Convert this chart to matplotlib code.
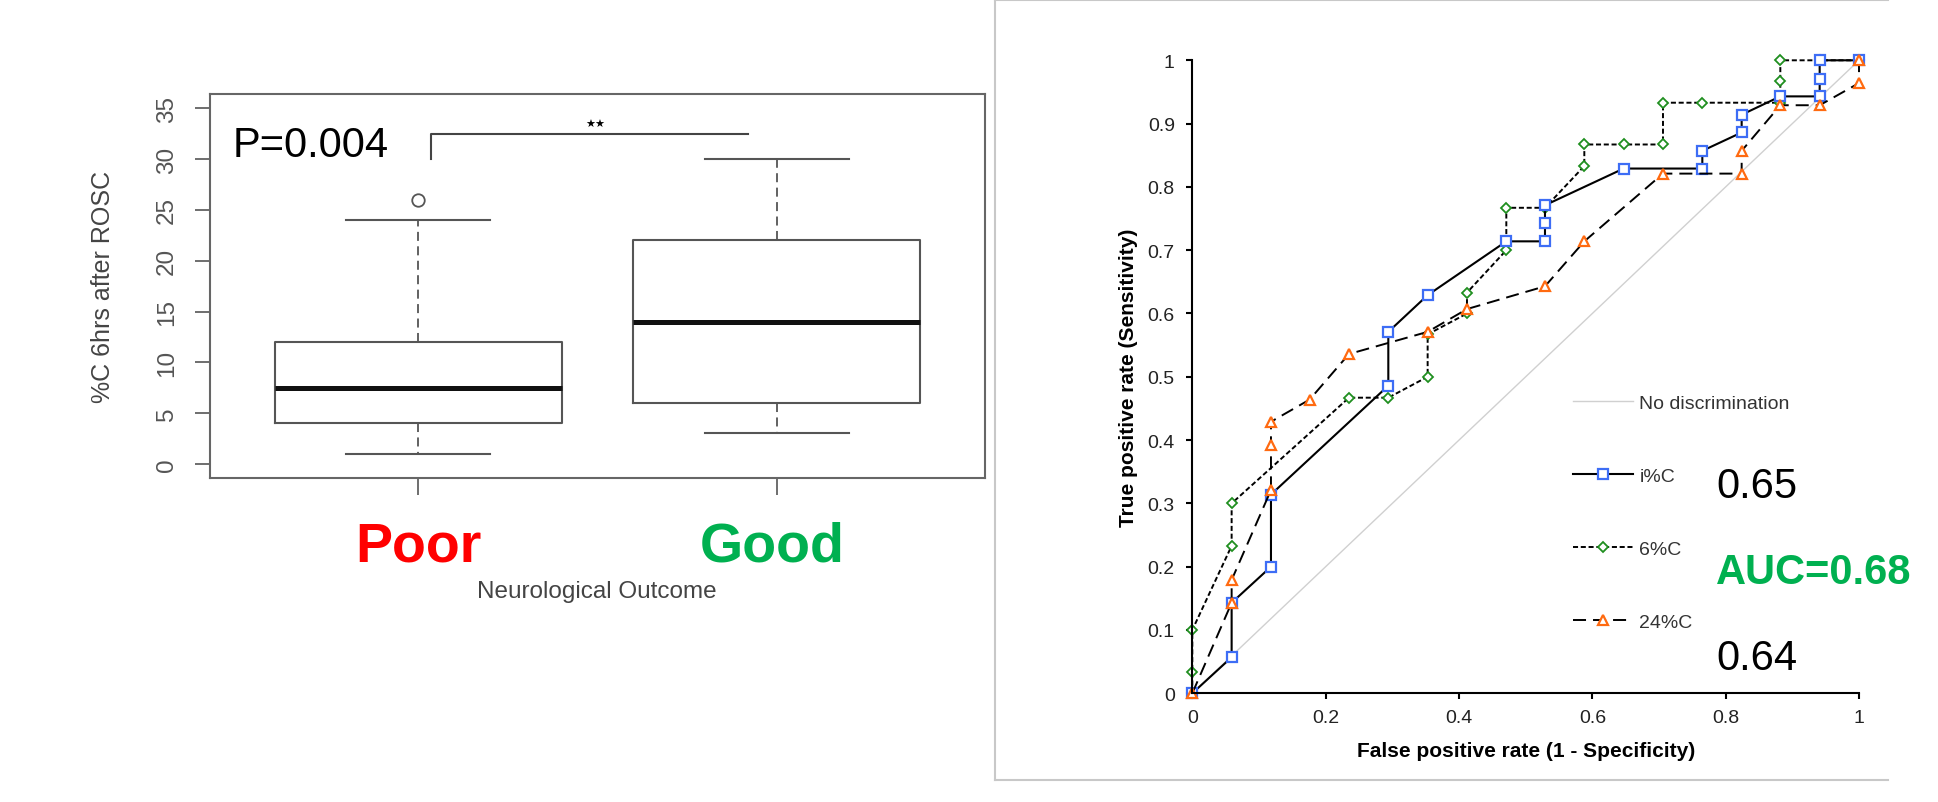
import matplotlib
matplotlib.use('Agg')
import matplotlib.pyplot as plt
from matplotlib.lines import Line2D
from matplotlib.ticker import FuncFormatter

plt.rcParams['font.family'] = ['Liberation Sans', 'DejaVu Sans']

# ---- left panel: %C 6 hrs after ROSC by neurological outcome ----
outcome = ['Poor', 'Good']
outcome_colors = ['#ff0000', '#00b050']
q1 = [4, 6]
median = [7.5, 14]
q3 = [12, 22]
whisker_low = [1, 3]
whisker_high = [24, 30]
outliers = [[26], []]
p_text = 'P=0.004'
bracket_x = [1.035, 1.92]
bracket_y = [30, 32.5]

# ---- right panel: ROC curves ----
fpr_i = [0, 0.059, 0.059, 0.118, 0.118, 0.294, 0.294, 0.353, 0.471, 0.529, 0.529,
         0.529, 0.647, 0.765, 0.765, 0.824, 0.824, 0.882, 0.941, 0.941, 0.941, 1.0]
tpr_i = [0, 0.057, 0.143, 0.200, 0.314, 0.486, 0.571, 0.629, 0.714, 0.714, 0.743,
         0.771, 0.829, 0.829, 0.857, 0.886, 0.914, 0.943, 0.943, 0.971, 1.0, 1.0]

fpr_6 = [0, 0, 0, 0.059, 0.059, 0.235, 0.294, 0.353, 0.353, 0.412, 0.412, 0.471, 0.471,
         0.529, 0.588, 0.588, 0.647, 0.706, 0.706, 0.765, 0.882, 0.882, 0.882, 0.941, 1.0]
tpr_6 = [0, 0.033, 0.100, 0.233, 0.300, 0.467, 0.467, 0.500, 0.567, 0.600, 0.633, 0.700, 0.767,
         0.767, 0.833, 0.867, 0.867, 0.867, 0.933, 0.933, 0.933, 0.967, 1.0, 1.0, 1.0]

fpr_24 = [0, 0.059, 0.059, 0.118, 0.118, 0.118, 0.176, 0.235, 0.353, 0.412, 0.529,
          0.588, 0.706, 0.824, 0.824, 0.882, 0.941, 1.0, 1.0]
tpr_24 = [0, 0.143, 0.179, 0.321, 0.393, 0.429, 0.464, 0.536, 0.571, 0.607, 0.643,
          0.714, 0.821, 0.821, 0.857, 0.929, 0.929, 0.964, 1.0]

auc_text = ['0.65', 'AUC=0.68', '0.64']

W, H = 1938, 803
fig = plt.figure(figsize=(W / 100, H / 100), dpi=100)

# boxplot panel
ax1 = fig.add_axes([210 / W, 1 - 479 / H, 775 / W, 384 / H])
stats = []
for i in range(len(outcome)):
    stats.append(dict(label=outcome[i], q1=q1[i], med=median[i], q3=q3[i],
                      whislo=whisker_low[i], whishi=whisker_high[i], fliers=outliers[i]))
ax1.bxp(stats, positions=[1, 2], widths=0.8, capwidths=0.4, showfliers=True,
        boxprops=dict(color='#555555', lw=1.5),
        medianprops=dict(color='#111111', lw=3.6, solid_capstyle='butt'),
        whiskerprops=dict(color='#555555', lw=1.3, ls=(0, (5, 3))),
        capprops=dict(color='#555555', lw=1.5),
        flierprops=dict(marker='o', mfc='none', mec='#555555', ms=9, mew=1.3))
ax1.set_xlim(0.42, 2.58)
ax1.set_ylim(-1.38, 36.4)
ax1.set_yticks(range(0, 36, 5))
ax1.tick_params(axis='y', length=11, width=1.2, color='#555555', labelcolor='#555555',
                labelsize=17.5, labelrotation=90, pad=12)
for lab in ax1.get_yticklabels():
    lab.set_va('center')
ax1.set_xticks([1, 2])
ax1.set_xticklabels([])
ax1.tick_params(axis='x', length=12, width=1.2, color='#555555')
for s in ax1.spines.values():
    s.set_color('#666666')
    s.set_linewidth(1.5)

ax1.plot([bracket_x[0], bracket_x[0], bracket_x[1]], [bracket_y[0], bracket_y[1], bracket_y[1]],
         color='#444444', lw=1.5)
ax1.text(1.494, 33.46, '★★', fontsize=8, ha='center', va='center', family=['DejaVu Sans'])
ax1.text(0.483, 30.29, p_text, fontsize=30, va='baseline')

for i, name in enumerate(outcome):
    fig.text([418.3, 772][i] / W, 1 - 561.7 / H, name, color=outcome_colors[i], fontsize=40,
             fontweight='bold', ha='center', va='baseline')
fig.text(597 / W, 1 - 598.3 / H, 'Neurological Outcome', fontsize=17.5, color='#444444',
         ha='center', va='baseline')
fig.text(103 / W, 1 - 286.5 / H, '%C 6hrs after ROSC', fontsize=18, color='#444444',
         rotation=90, ha='center', va='center')

# ROC panel
ax2 = fig.add_axes([1192.3 / W, 1 - 694.3 / H, 666.7 / W, 633 / H])
diag, = ax2.plot([0, 1], [0, 1], color='#d0d0d0', lw=1, label='No discrimination')
l6, = ax2.plot(fpr_6, tpr_6, color='black', lw=1.4, ls=(0, (2.6, 1.4)), marker='D', ms=4.6,
               mfc='white', mec='#1f8f1f', mew=1.3, clip_on=False, label='6%C')
li, = ax2.plot(fpr_i, tpr_i, color='black', lw=1.5, ls='-', marker='s', ms=7,
               mfc='white', mec='#3d6df5', mew=1.6, clip_on=False, label='i%C')
l24, = ax2.plot(fpr_24, tpr_24, color='black', lw=1.4, ls=(0, (6.7, 3.6)), marker='^', ms=7.5,
                mfc='white', mec='#ff6a10', mew=1.6, clip_on=False, label='24%C')
ax2.set_xlim(0, 1)
ax2.set_ylim(0, 1)
ax2.set_xticks([0, 0.2, 0.4, 0.6, 0.8, 1])
ax2.set_yticks([0, 0.1, 0.2, 0.3, 0.4, 0.5, 0.6, 0.7, 0.8, 0.9, 1])
fmt = FuncFormatter(lambda v, _: f'{v:g}')
ax2.xaxis.set_major_formatter(fmt)
ax2.yaxis.set_major_formatter(fmt)
ax2.spines['top'].set_visible(False)
ax2.spines['right'].set_visible(False)
for s in ['left', 'bottom']:
    ax2.spines[s].set_linewidth(1.5)
ax2.tick_params(axis='both', direction='out', length=4, width=1.5, labelsize=14,
                labelcolor='#222222')
ax2.tick_params(axis='y', pad=8.6)
ax2.tick_params(axis='x', pad=7)
ax2.set_xlabel('False positive rate (1 - Specificity)', fontsize=15, fontweight='bold')
ax2.xaxis.label.set_va('baseline')
ax2.xaxis.set_label_coords(0.5, -0.0983)
ax2.set_ylabel('True positive rate (Sensitivity)', fontsize=15, fontweight='bold')
ax2.yaxis.label.set_va('center')
ax2.yaxis.set_label_coords(-0.095, 0.5)

leg = ax2.legend(handles=[diag, li, l6, l24], loc='upper left',
                 bbox_to_anchor=(1572.7 / W, 1 - 395 / H), bbox_transform=fig.transFigure,
                 frameon=False, fontsize=14, handlelength=3.12, handletextpad=0.31,
                 labelspacing=2.85, borderpad=0, borderaxespad=0, numpoints=1)
for t in leg.get_texts():
    t.set_color('#333333')

auc_base = [498.3, 584, 670]
for i, txt in enumerate(auc_text):
    if txt.startswith('AUC'):
        fig.text(1716 / W, 1 - auc_base[i] / H, txt, fontsize=30, fontweight='bold',
                 color='#00b050', va='baseline')
    else:
        fig.text(1716 / W, 1 - auc_base[i] / H, txt, fontsize=30, va='baseline')

# grey frame around the ROC panel
for xs, ys in [([995, 995], [0, 781]), ([995, 1888], [781, 781]), ([995, 1888], [1, 1])]:
    fig.add_artist(Line2D([x / W for x in xs], [1 - y / H for y in ys], color='#c8c8c8',
                          lw=1.5, transform=fig.transFigure))

fig.savefig('out.png', dpi=100)
